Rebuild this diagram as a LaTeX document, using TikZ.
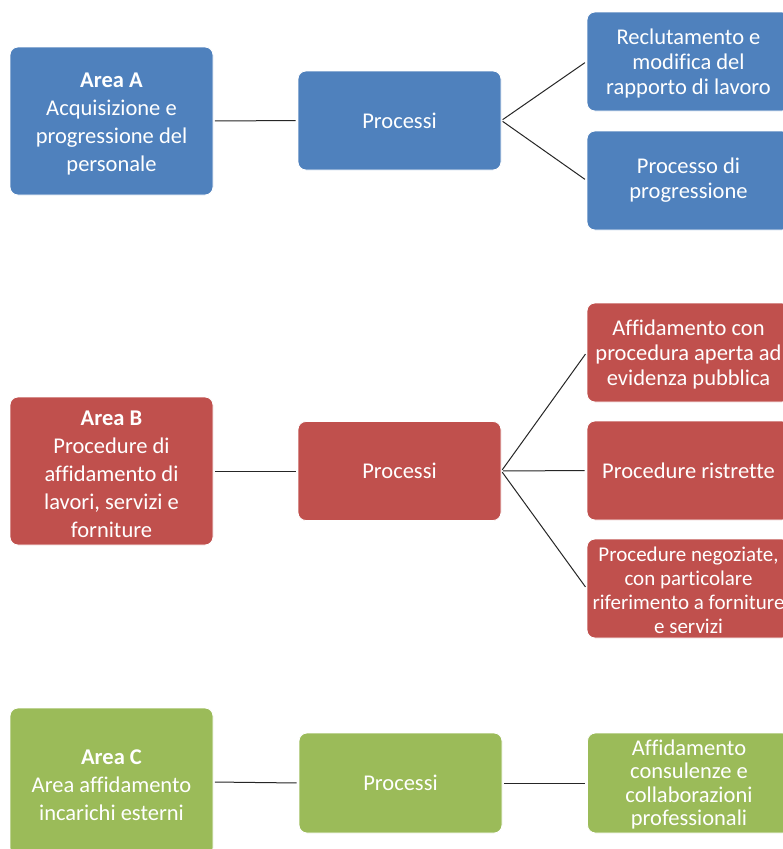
\documentclass[tikz,border=0pt]{standalone}
\usepackage{fontspec}
\setmainfont[Ligatures=NoCommon]{Carlito}
\definecolor{cblue}{HTML}{4F81BD}
\definecolor{cred}{HTML}{C0504D}
\definecolor{cgreen}{HTML}{9BBB59}
\definecolor{lineclr}{HTML}{262626}
\newcommand\mytopA{\rule{0pt}{21pt}}
\newcommand\mytopB{\rule{0pt}{19pt}}
\tikzset{
  box/.style={rounded corners=8pt, draw=white, line width=0.8pt, text=white,
    minimum width=203pt, inner sep=0pt, align=center},
  areabox/.style={box, minimum height=148pt, font=\fontsize{22.5}{28}\selectfont},
  procbox/.style={box, minimum height=99pt, font=\fontsize{22.5}{28}\selectfont},
  leafbox/.style={box, minimum height=99pt, font=\fontsize{22.5}{25}\selectfont},
  conn/.style={draw=lineclr, line width=1pt, shorten <=1.5pt, shorten >=2pt},
}
\begin{document}
\begin{tikzpicture}[x=1pt,y=-1pt]
\useasboundingbox[fill=white] (0,0) rectangle (783,849);
% Row A
\node[areabox, fill=cblue] (areaA) at (111.5,121) {\mytopA\textbf{Area A}\\Acquisizione e\\progressione del\\personale};
\node[procbox, fill=cblue] (procA) at (399.5,120.5) {Processi};
\node[leafbox, fill=cblue] (a1) at (688.5,61.5) {\mytopB Reclutamento e\\modifica del\\rapporto di lavoro};
\node[leafbox, fill=cblue] (a2) at (688.5,180.5) {Processo di\\progressione};
\draw[conn] (areaA.east) -- (procA.west);
\draw[conn] (procA.east) -- (a1.west);
\draw[conn] (procA.east) -- (a2.west);
% Row B
\node[areabox, fill=cred] (areaB) at (111.5,471) {\mytopA\textbf{Area B}\\Procedure di\\affidamento di\\lavori, servizi e\\forniture};
\node[procbox, fill=cred] (procB) at (399.5,471) {Processi};
\node[leafbox, fill=cred] (b1) at (688.5,352.5) {\mytopB Affidamento con\\procedura aperta ad\\evidenza pubblica};
\node[leafbox, fill=cred] (b2) at (688.5,470.5) {Procedure ristrette};
\node[leafbox, fill=cred, font=\fontsize{21}{24}\selectfont] (b3) at (688.5,588.5) {\mytopB Procedure negoziate,\\con particolare\\riferimento a forniture\\e servizi};
\draw[conn] (areaB.east) -- (procB.west);
\draw[conn] (procB.east) -- (b1.west);
\draw[conn] (procB.east) -- (b2.west);
\draw[conn] (procB.east) -- (b3.west);
% Row C
\node[areabox, fill=cgreen] (areaC) at (111.5,782) {\mytopA\textbf{Area C}\\Area affidamento\\incarichi esterni};
\node[procbox, fill=cgreen, minimum height=100pt] (procC) at (400.5,783) {Processi};
\node[leafbox, fill=cgreen, minimum height=100pt, font=\fontsize{22.5}{23.5}\selectfont] (c1) at (689,783) {\mytopB Affidamento\\consulenze e\\collaborazioni\\professionali};
\draw[conn] (areaC.east) -- (procC.west);
\draw[conn] (procC.east) -- (c1.west);
\end{tikzpicture}
\end{document}
